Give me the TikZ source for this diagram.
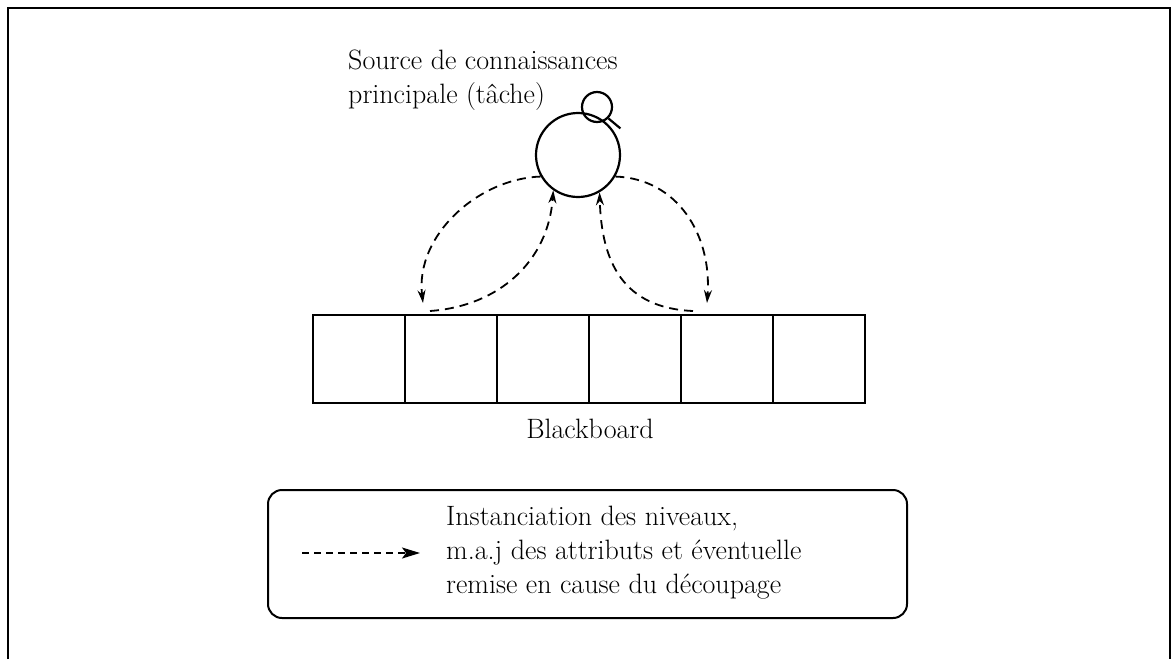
\documentclass[tikz,border=0pt]{standalone}
\usepackage{tikz}
\usetikzlibrary{arrows.meta,positioning}

\begin{document}
\begin{tikzpicture}[
  x=1pt, y=-1pt,
  font=\fontsize{28}{34}\selectfont,
  cell/.style={draw, line width=1.8pt, minimum width=92pt, minimum height=88pt, inner sep=0pt, outer sep=0pt},
  ksnode/.style={draw, circle, line width=2.2pt, inner sep=0pt},
  darr/.style={-{Stealth[length=13pt,width=8pt]}, dash pattern=on 9pt off 6pt, line width=1.8pt},
  legarr/.style={-{Stealth[length=18pt,width=11pt,inset=4pt]}, dash pattern=on 7pt off 5pt, line width=1.8pt}
]
\useasboundingbox (0,0) rectangle (1172,659);
% frame
\draw[line width=1.6pt] (8,659) -- (8,8) -- (1170,8) -- (1170,659);

% knowledge source
\node[anchor=north west, align=left, inner sep=0pt] (src) at (348,50) {Source de connaissances\\principale (tâche)};
\node[ksnode, minimum size=84pt] (ks) at (578,155) {};
\node[ksnode, minimum size=30pt] (loop) at (597,107) {};
\draw[line width=2.2pt] (loop.-45) -- ++(12,10);

% blackboard
\node[cell] (c1) at (359,359) {};
\foreach \i [count=\j from 2] in {1,...,5}
  \node[cell, right=0pt of c\i] (c\j) {};
\node[anchor=base] (bb) at (590,438) {Blackboard};

% exchanges
\draw[darr] (ks.210) .. controls +(-62,2) and +(-8,-68) .. ([xshift=18pt,yshift=12pt]c2.north west);
\draw[darr] ([xshift=25pt,yshift=4pt]c2.north west) .. controls +(70,-5) and +(-5,70) .. (ks.235);
\draw[darr] ([xshift=12pt,yshift=4pt]c5.north west) .. controls +(-70,-3) and +(2,70) .. (ks.-60);
\draw[darr] (ks.-30) .. controls +(62,2) and +(5,-68) .. ([xshift=26pt,yshift=12pt]c5.north west);

% legend
\node[draw, line width=2pt, rounded corners=14pt, minimum width=639pt, minimum height=128pt] (legend) at (587.5,554) {};
\node[anchor=west, align=left, inner sep=0pt] (legtxt) at (446,553) {Instanciation des niveaux,\\m.a.j des attributs et éventuelle\\remise en cause du découpage};
\coordinate (legfrom) at (302,553);
\draw[legarr] (legfrom) -- ([xshift=-26pt]legtxt.west);
\end{tikzpicture}
\end{document}
